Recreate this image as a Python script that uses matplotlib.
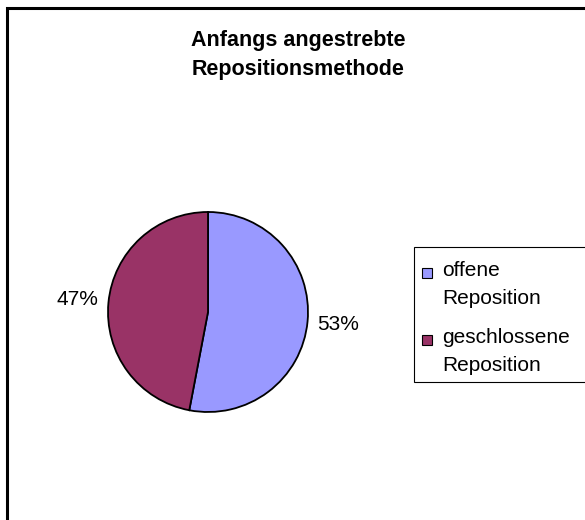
"""Pie chart: initially intended reduction method (Excel-style)."""

import matplotlib
import matplotlib.pyplot as plt
from matplotlib.lines import Line2D
from matplotlib.patches import Rectangle

matplotlib.use("Agg")

plt.rcParams["font.family"] = ["Liberation Sans", "DejaVu Sans"]

TITLE = "Anfangs angestrebte\nRepositionsmethode"
CATEGORIES = ["offene\nReposition", "geschlossene\nReposition"]
SHARES = [53, 47]
COLOURS = ["#9999ff", "#993366"]

W, H = 585, 520
FS = 15


def main(output_path: str = "out.png") -> None:
    fig = plt.figure(figsize=(W / 100, H / 100), dpi=100)
    ax = fig.add_axes([0, 0, 1, 1])

    ax.pie(
        SHARES,
        colors=COLOURS,
        startangle=90,
        counterclock=False,
        center=(208, H - 312),
        radius=100,
        autopct="%1.0f%%",
        pctdistance=1.31,
        wedgeprops=dict(edgecolor="black", linewidth=1.3),
        textprops=dict(fontsize=FS, color="black"),
    )
    ax.set_xlim(0, W)
    ax.set_ylim(0, H)
    ax.set_aspect("equal")
    ax.axis("off")

    # outer frame (only top and left edges fall inside the picture)
    ax.add_line(Line2D([7, 7, W], [0, H - 8, H - 8], color="black",
                       linewidth=2.2, solid_joinstyle="miter"))

    ax.text(298, H - 55, TITLE, ha="center", va="center", fontsize=15.5,
            fontweight="bold", linespacing=1.55)

    # legend box drawn by hand to match Excel's layout
    ax.add_patch(Rectangle((414, H - 382), 175, 135, facecolor="white",
                           edgecolor="black", linewidth=0.8))
    tops = [269, 336]
    for label, colour, y in zip(CATEGORIES, COLOURS, tops):
        ax.add_patch(Rectangle((422, H - y - 9), 10, 10, facecolor=colour,
                               edgecolor="black", linewidth=0.8))
        ax.text(442, H - y + 8, label, ha="left", va="top", fontsize=FS,
                linespacing=1.58)

    fig.savefig(output_path, dpi=100, facecolor="white")
    plt.close(fig)


if __name__ == "__main__":
    main()
